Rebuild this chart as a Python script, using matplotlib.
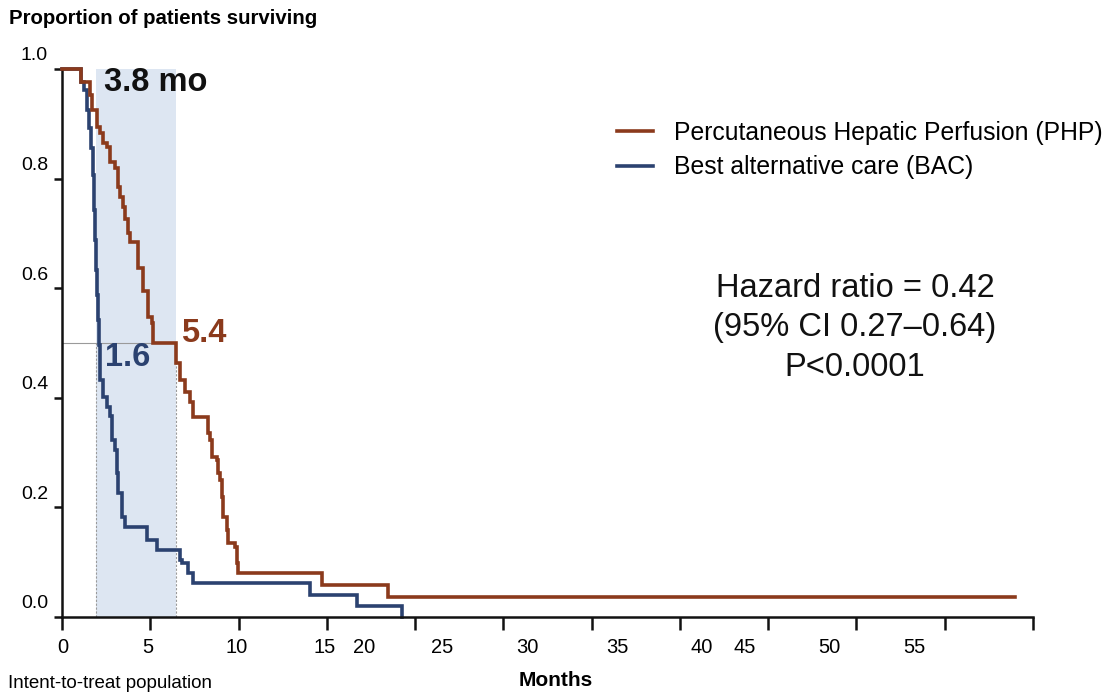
import numpy as np
import matplotlib
matplotlib.use("Agg")
import matplotlib.pyplot as plt
from matplotlib.transforms import ScaledTranslation

plt.rcParams['font.family'] = ['Liberation Sans', 'DejaVu Sans']

# ---------------- data ----------------
php_times = [0.0, 0.90, 1.33, 1.41, 1.65, 1.81, 1.95, 2.12, 2.28, 2.52, 2.66, 2.76, 2.90,
             2.99, 3.14, 3.23, 3.61, 3.85, 4.09, 4.26, 4.32, 5.40, 5.61, 5.84, 6.08,
             6.22, 6.94, 7.03, 7.13, 7.36, 7.41, 7.51, 7.60, 7.65, 7.84, 7.89, 8.22,
             8.31, 8.36, 12.35, 15.49, 45.27]
php_surv = [1.0, 0.977, 0.953, 0.925, 0.895, 0.883, 0.865, 0.858, 0.831, 0.819, 0.785,
            0.767, 0.749, 0.727, 0.701, 0.685, 0.637, 0.594, 0.548, 0.536, 0.500,
            0.463, 0.432, 0.411, 0.392, 0.365, 0.336, 0.323, 0.292, 0.286, 0.263,
            0.250, 0.219, 0.182, 0.159, 0.135, 0.128, 0.099, 0.080, 0.058, 0.036, 0.036]

bac_times = [0.0, 0.90, 1.05, 1.19, 1.28, 1.38, 1.47, 1.52, 1.57, 1.62, 1.66, 1.71, 1.76,
             1.81, 1.96, 2.12, 2.28, 2.36, 2.52, 2.60, 2.67, 2.84, 2.99, 4.02, 4.50,
             5.61, 5.69, 5.99, 6.22, 11.78, 14.00, 16.17]
bac_surv = [1.0, 0.977, 0.962, 0.925, 0.892, 0.856, 0.807, 0.743, 0.688, 0.633, 0.588,
            0.542, 0.496, 0.432, 0.402, 0.384, 0.366, 0.323, 0.305, 0.262, 0.226,
            0.183, 0.165, 0.141, 0.122, 0.104, 0.099, 0.080, 0.0615, 0.040, 0.020, 0.0]

median_php = 5.4
median_bac = 1.6
median_diff = 3.8

series_labels = ['Percutaneous Hepatic Perfusion (PHP)', 'Best alternative care (BAC)']
y_ticks = [0.0, 0.2, 0.4, 0.6, 0.8, 1.0]
y_tick_labels = ['0.0', '0.2', '0.4', '0.6', '0.8', '1.0']
x_tick_labels = ['0', '5', '10', '15', '20', '25', '30', '35', '40', '45', '50', '55']
# label positions (as drawn in the source image, not aligned with tick marks)
x_tick_label_pos = [0.05, 4.09, 8.31, 12.49, 14.35, 18.05, 22.09, 26.37, 30.40, 32.45, 36.44, 40.48]

hr_lines = ['Hazard ratio = 0.42', '(95% CI 0.27\u20130.64)', 'P<0.0001']

# ---------------- figure ----------------
W, H, DPI = 1119, 695, 100
fig = plt.figure(figsize=(W / DPI, H / DPI), dpi=DPI)
ax_left, ax_right, ax_bottom, ax_top = 62, 1033, 617, 69
ax = fig.add_axes([ax_left / W, 1 - ax_bottom / H, (ax_right - ax_left) / W, (ax_bottom - ax_top) / H])

xmax = 46.13
ax.set_xlim(0, xmax)
ax.set_ylim(0, 1.0)

c_php = '#8b3a1c'
c_bac = '#2b4270'
shade = '#dde6f2'

# shaded median difference region
ax.axvspan(median_bac, median_php, ymin=0, ymax=1, color=shade, zorder=0, lw=0)
ax.plot([0, median_php], [0.5, 0.5], color='#9a9a9a', lw=0.8, zorder=1)
ax.plot([median_bac, median_bac], [0, 0.5], color='#9a9a9a', lw=0.8, ls=(0, (2, 1.5)), zorder=1)
ax.plot([median_php, median_php], [0, 0.5], color='#9a9a9a', lw=0.8, ls=(0, (2, 1.5)), zorder=1)

l_php, = ax.step(php_times, php_surv, where='post', color=c_php, lw=2.6, zorder=3,
                 clip_on=False, solid_joinstyle='miter')
l_bac, = ax.step(bac_times, bac_surv, where='post', color=c_bac, lw=2.6, zorder=2,
                 clip_on=False, solid_joinstyle='miter')

# spines
for s in ['top', 'right']:
    ax.spines[s].set_visible(False)
for s in ['left', 'bottom']:
    ax.spines[s].set_linewidth(1.8)
    ax.spines[s].set_color('#111111')

# x ticks: uniform tick marks, separately placed labels
ax.set_xticks(np.linspace(0, xmax, 12))
ax.set_xticklabels([])
ax.tick_params(axis='x', which='major', direction='out', length=9, width=1.8, color='#111111')
ax.set_xticks(x_tick_label_pos, minor=True)
ax.set_xticklabels(x_tick_labels, minor=True, fontsize=14.5)
ax.tick_params(axis='x', which='minor', length=0, pad=15)

# y ticks with labels raised above tick marks
ax.set_yticks(y_ticks)
ax.set_yticklabels(y_tick_labels, fontsize=14)
ax.tick_params(axis='y', which='major', direction='out', length=6, width=1.8, color='#111111', pad=4)
offset = ScaledTranslation(0, 15 / DPI, fig.dpi_scale_trans)
for lbl in ax.get_yticklabels():
    lbl.set_transform(lbl.get_transform() + offset)

# labels
fig.text(9 / W, 1 - 19 / H, 'Proportion of patients surviving', fontsize=14.7,
         fontweight='bold', va='center', ha='left')
fig.text(8 / W, 1 - 683 / H, 'Intent-to-treat population', fontsize=13.5, va='center', ha='left')
ax.set_xlabel('Months', fontsize=15, fontweight='bold', va='center')
ax.xaxis.set_label_coords((556 - ax_left) / (ax_right - ax_left), (ax_bottom - 680) / (ax_bottom - ax_top))

# annotations
ax.text(2.0, 0.976, f'{median_diff} mo', fontsize=23.5, fontweight='bold', color='#111111',
        ha='left', va='center')
ax.text(5.65, 0.518, f'{median_php}', fontsize=23.5, fontweight='bold', color=c_php,
        ha='left', va='center')
ax.text(2.04, 0.474, f'{median_bac}', fontsize=23.5, fontweight='bold', color=c_bac,
        ha='left', va='center')

hr_y = [0.600, 0.529, 0.456]
for txt, yy in zip(hr_lines, hr_y):
    ax.text(37.67, yy, txt, fontsize=23.5, ha='center', va='center', color='#111111')

leg = ax.legend([l_php, l_bac], series_labels, loc='center left',
                bbox_to_anchor=(617 / W, 1 - 150 / H), bbox_transform=fig.transFigure,
                frameon=False, fontsize=17.8, handlelength=1.45, handletextpad=0.85,
                labelspacing=0.42, borderpad=0, borderaxespad=0)

fig.savefig('out.png', dpi=DPI)
